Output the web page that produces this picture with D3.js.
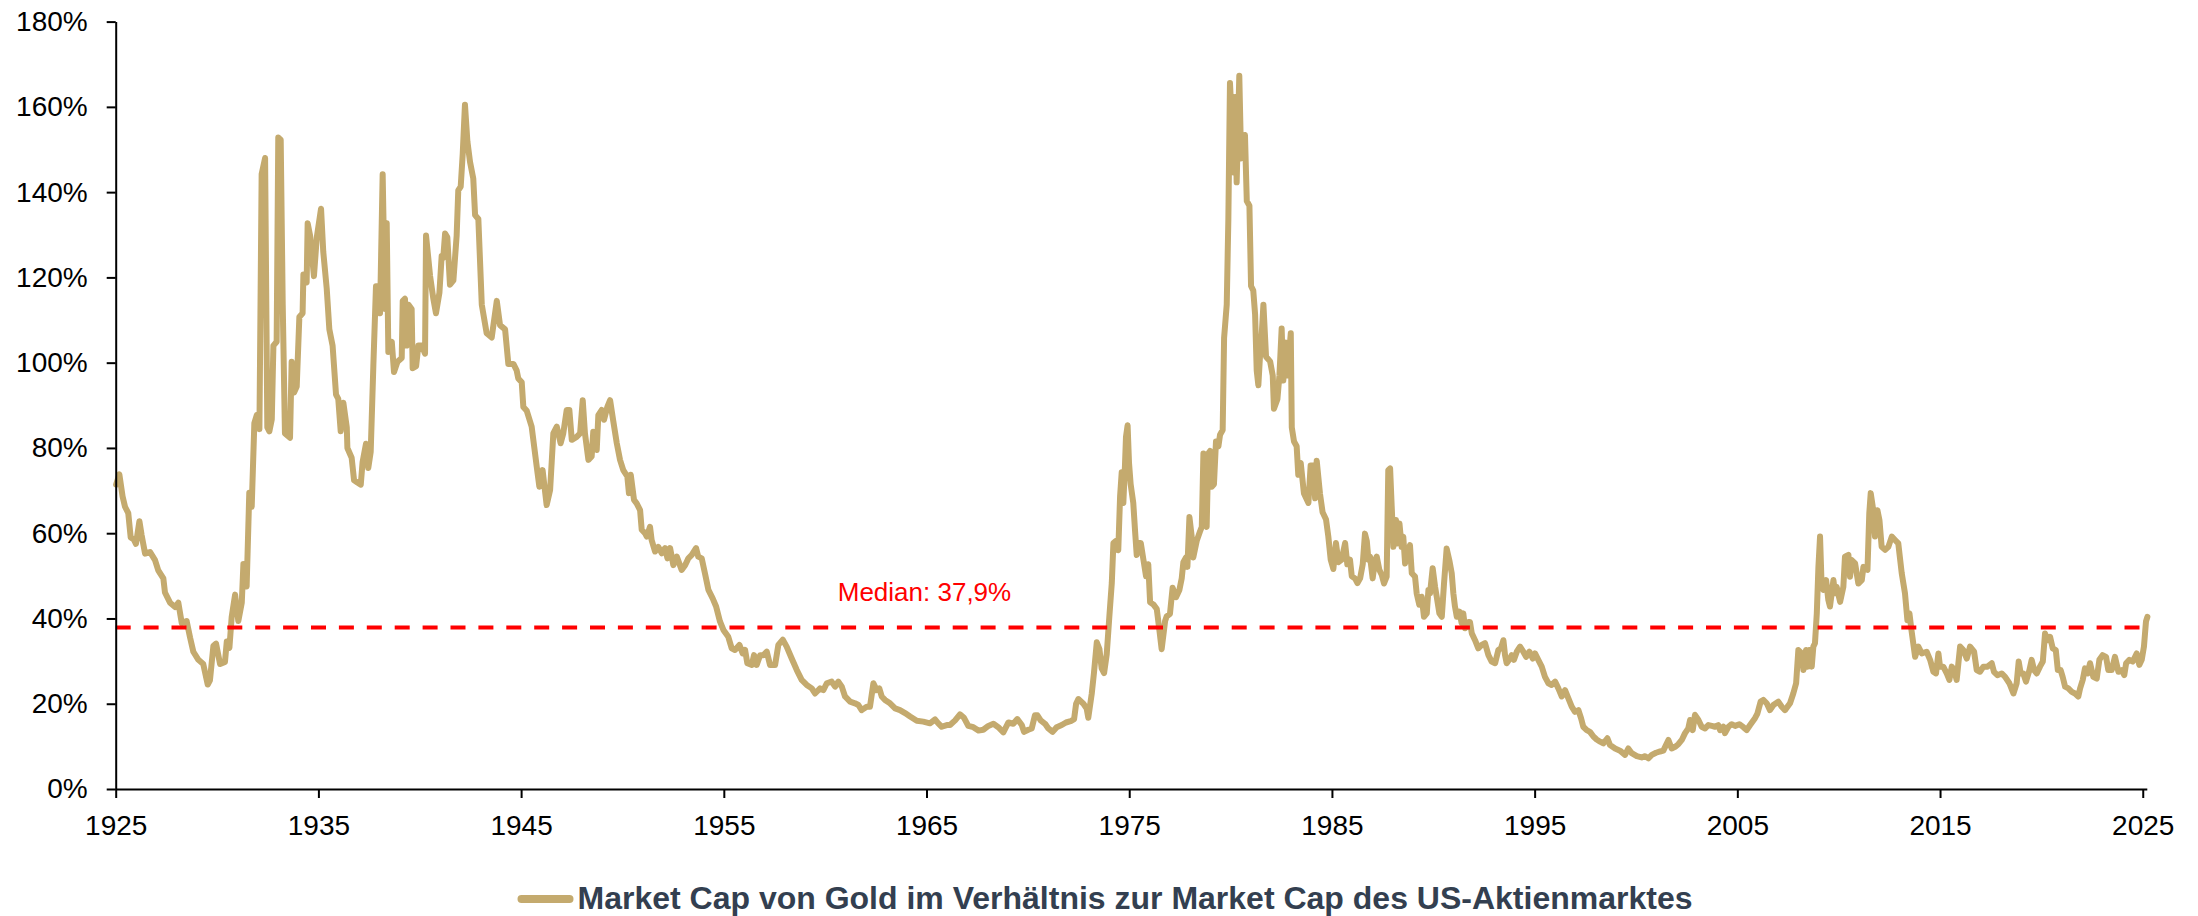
<!DOCTYPE html>
<html>
<head>
<meta charset="utf-8">
<script src="https://cdn.jsdelivr.net/npm/d3@7"></script>
<style>
  html, body { margin: 0; padding: 0; background: #fff; }
  svg { display: block; }
</style>
</head>
<body>
<div id="chart"></div>
<script>
// Market cap of gold relative to US stock market cap, in % ([year, value])
const era1925 = [
  [1925.02,71.4],[1925.18,73.8],[1925.34,68.6],[1925.46,66.2],[1925.62,64.7],[1925.74,59.0],[1925.90,58.5],[1926.00,57.5],
  [1926.17,62.8],[1926.28,59.5],[1926.45,55.2],[1926.69,55.6],[1926.94,53.7],[1927.10,51.3],[1927.35,49.4],[1927.43,46.1],
  [1927.68,43.7],[1927.93,42.7],[1928.09,43.7],[1928.26,38.9],[1928.50,39.4],[1928.67,35.5],[1928.83,32.2],[1929.08,30.3],
  [1929.32,29.3],[1929.54,24.5],[1929.65,25.5],[1929.82,33.6],[1929.95,34.1],[1930.15,29.3],[1930.39,29.8],[1930.48,34.6],
  [1930.61,33.1],[1930.72,40.3],[1930.89,45.6],[1931.05,39.4],[1931.22,43.7],[1931.30,52.8],[1931.46,47.5],[1931.59,69.5],
  [1931.71,66.2],[1931.84,85.8],[1931.96,87.7],[1932.09,84.4],[1932.20,144.2],[1932.37,148.0],[1932.48,84.8],[1932.58,83.9],
  [1932.70,86.7],[1932.78,104.0],[1932.94,104.9],[1933.02,152.8],[1933.14,152.3],[1933.24,113.6],[1933.35,83.4],[1933.60,82.4],
  [1933.68,100.2],[1933.80,93.0],[1933.93,94.4],[1934.06,110.7],[1934.22,111.6],[1934.26,120.7],[1934.42,118.8],[1934.47,132.7],
  [1934.59,129.8],[1934.78,120.3],[1934.92,129.4],[1935.13,136.1],[1935.24,126.0],[1935.41,117.4],[1935.54,107.8],[1935.70,104.0],
  [1935.87,92.5],[1935.98,91.5],[1936.10,83.9],[1936.23,90.6],[1936.40,84.8],[1936.43,80.0],[1936.64,77.7],[1936.76,72.4],
  [1936.92,71.9],[1937.09,71.4],[1937.18,76.7],[1937.35,81.0],[1937.46,75.3],[1937.58,79.1],[1937.71,99.2],[1937.84,117.9],
  [1937.96,117.9],[1938.04,111.6],[1938.17,144.2],[1938.29,112.6],[1938.37,132.7],[1938.45,102.5],[1938.62,104.9],[1938.73,97.8],
  [1938.90,100.2],[1939.11,101.1],[1939.16,114.5],[1939.27,115.0],[1939.36,104.0],[1939.44,113.6],[1939.60,112.6],[1939.65,98.7],
  [1939.82,99.2],[1939.93,104.0],[1940.10,104.0],[1940.26,102.1],[1940.31,129.8],[1940.51,120.3],[1940.67,115.0],[1940.80,111.6],
  [1940.97,116.4],[1941.08,125.0],[1941.16,124.6],[1941.25,130.3],[1941.36,129.4],[1941.49,118.3],[1941.66,119.3],[1941.82,129.8],
  [1941.90,140.4],[1942.02,141.3],[1942.12,149.0],[1942.23,160.5],[1942.35,151.9],[1942.48,147.1],[1942.64,143.2],[1942.73,134.6],
  [1942.89,133.7],[1943.06,113.6],[1943.30,106.9],[1943.55,105.9],[1943.80,114.5],[1943.96,108.8],[1944.21,107.8],[1944.37,99.7],
  [1944.62,99.7],[1944.78,98.2],[1944.86,96.3],[1945.03,95.4],[1945.11,89.6],[1945.28,88.7]
];
const era1945 = [
  [1945.52,85.0],[1945.77,75.6],[1945.90,70.9],[1946.06,74.8],[1946.26,66.6],[1946.43,70.1],[1946.59,83.4],[1946.76,85.0],
  [1946.95,81.1],[1947.08,83.4],[1947.25,88.9],[1947.38,88.9],[1947.50,81.9],[1947.74,82.6],[1947.91,83.4],[1948.04,91.2],
  [1948.15,83.4],[1948.32,77.2],[1948.48,78.0],[1948.56,83.8],[1948.73,79.5],[1948.81,87.7],[1948.98,88.9],[1949.09,86.6],
  [1949.26,89.7],[1949.39,91.2],[1949.55,86.2],[1949.72,81.1],[1949.88,77.2],[1950.04,74.8],[1950.24,73.3],[1950.32,69.4],
  [1950.41,73.7],[1950.57,67.8],[1950.70,67.0],[1950.87,65.4],[1950.95,60.8],[1951.11,60.0],[1951.20,59.2],[1951.36,61.5],
  [1951.44,58.4],[1951.61,55.7],[1951.77,56.8],[1951.94,55.3],[1952.10,56.5],[1952.22,54.1],[1952.35,56.5],[1952.51,52.5],
  [1952.68,54.5],[1952.92,51.4],[1953.09,52.5],[1953.25,54.1],[1953.42,54.9],[1953.63,56.5],[1953.74,54.5],[1953.91,54.1],
  [1954.07,50.6],[1954.24,46.7],[1954.45,44.7],[1954.62,42.8],[1954.81,39.3],[1954.98,37.3],[1955.22,35.7],[1955.39,33.0],
  [1955.55,32.6],[1955.77,33.8],[1955.93,31.8],[1956.05,32.6],[1956.16,29.5],[1956.38,29.1],[1956.49,31.4],[1956.62,29.1],
  [1956.79,31.4],[1956.95,31.4],[1957.12,32.2],[1957.28,29.1],[1957.53,29.1],[1957.69,33.8],[1957.91,35.0],[1958.10,33.4],
  [1958.35,30.6],[1958.60,27.9],[1958.84,25.6],[1959.09,24.4],[1959.34,23.6],[1959.50,22.4],[1959.75,23.6],[1959.91,23.2],
  [1960.08,24.8],[1960.32,25.2],[1960.49,24.0],[1960.65,25.2],[1960.82,24.0],[1960.98,21.7],[1961.23,20.5],[1961.47,20.1],
  [1961.64,19.7],[1961.80,18.5],[1962.05,19.3],[1962.21,19.3],[1962.38,24.8],[1962.54,23.2],[1962.67,23.6],[1962.79,21.7],
  [1962.95,20.9],[1963.20,20.1],[1963.45,18.9],[1963.69,18.5],[1963.94,17.8],[1964.19,17.0],[1964.52,16.0],[1964.84,15.8],
  [1965.17,15.4],[1965.42,16.3],[1965.58,15.4],[1965.75,14.6],[1966.00,15.0]
];
const era1966 = [
  [1966.16,15.0],[1966.41,16.1],[1966.65,17.5],[1966.85,16.7],[1967.06,14.8],[1967.31,14.5],[1967.56,13.7],[1967.80,13.9],
  [1968.05,14.8],[1968.30,15.3],[1968.54,14.5],[1968.79,13.3],[1969.04,15.6],[1969.28,15.3],[1969.48,16.4],[1969.70,15.0],
  [1969.81,13.4],[1970.02,13.9],[1970.19,14.2],[1970.35,17.3],[1970.47,17.3],[1970.63,16.1],[1970.85,15.3],[1971.01,14.2],
  [1971.22,13.4],[1971.42,14.5],[1971.67,15.0],[1971.88,15.6],[1972.11,15.9],[1972.28,16.4],[1972.38,20.0],[1972.49,21.1],
  [1972.74,20.0],[1972.90,18.9],[1972.98,16.7],[1973.15,22.3],[1973.26,27.2],[1973.40,34.4],[1973.53,32.8],[1973.64,28.3],
  [1973.76,27.2],[1973.89,31.6],[1974.02,40.5],[1974.14,48.3],[1974.22,57.7],[1974.35,58.2],[1974.46,56.0],[1974.55,68.7],
  [1974.63,74.3],[1974.71,67.1],[1974.79,75.9],[1974.84,82.6],[1974.92,85.3],[1974.99,76.5],[1975.07,71.5],[1975.20,67.1],
  [1975.29,60.4],[1975.37,54.9],[1975.45,57.7],[1975.57,57.7],[1975.70,53.8],[1975.83,49.9],[1975.94,52.7],[1976.03,43.8],
  [1976.19,43.3],[1976.36,42.2],[1976.49,37.2],[1976.60,32.8],[1976.77,39.4],[1976.85,40.5],[1977.01,41.1],[1977.14,47.2],
  [1977.31,45.0],[1977.47,46.6],[1977.59,49.4],[1977.67,53.2],[1977.80,54.3],[1977.87,52.1],[1977.97,63.8],[1978.08,59.3],
  [1978.16,54.3],[1978.33,58.2],[1978.49,60.4],[1978.58,61.5],[1978.66,78.7],[1978.74,62.1],[1978.82,61.5],[1978.90,78.7],
  [1978.99,79.3],[1979.07,70.9],[1979.18,71.5],[1979.28,81.5],[1979.40,80.4],[1979.48,83.1],[1979.61,84.2],[1979.68,105.8],
  [1979.81,113.6],[1979.89,133.5],[1979.97,165.6],[1980.06,156.7],[1980.14,144.6],[1980.22,162.3],[1980.30,142.3],[1980.43,167.3],
  [1980.52,147.9],[1980.60,151.2],[1980.71,153.4],[1980.80,137.9],[1980.93,136.8],[1981.01,118.0],[1981.12,116.9],[1981.21,111.3],
  [1981.29,98.1],[1981.37,94.7],[1981.45,101.4],[1981.54,106.9],[1981.62,113.6],[1981.75,101.4],[1981.95,100.3],[1982.08,97.0],
  [1982.14,89.2],[1982.31,91.4],[1982.41,97.0],[1982.52,108.0],[1982.60,95.8],[1982.74,104.7],[1982.80,97.0],[1982.97,106.9],
  [1983.02,84.8],[1983.13,81.5],[1983.26,80.4],[1983.34,73.7],[1983.46,76.5],[1983.62,69.3],[1983.84,67.1],[1983.95,75.9],
  [1984.08,75.9],[1984.17,68.2],[1984.25,77.0],[1984.41,69.3],[1984.54,64.9],[1984.71,63.2],[1984.82,59.3],[1984.94,53.8],
  [1985.07,51.6],[1985.20,57.7],[1985.32,53.2],[1985.48,53.8],[1985.65,57.7],[1985.76,52.7],[1985.89,53.8],[1985.98,49.9],
  [1986.14,49.4],[1986.26,48.3],[1986.39,49.4],[1986.52,52.7],[1986.63,59.9],[1986.72,58.2],[1986.80,53.8]
];
const era1987 = [
  [1986.88,54.5],[1987.01,49.4],[1987.13,53.7],[1987.21,54.5],[1987.34,51.4],[1987.46,50.2],[1987.57,48.2],[1987.70,49.8],
  [1987.78,74.8],[1987.87,75.2],[1987.95,66.2],[1988.03,56.8],[1988.16,63.1],[1988.23,57.6],[1988.33,62.3],[1988.44,56.8],
  [1988.52,59.2],[1988.61,52.9],[1988.72,55.3],[1988.85,57.2],[1988.94,50.6],[1989.10,49.8],[1989.18,45.9],[1989.31,43.2],
  [1989.43,45.1],[1989.54,40.4],[1989.68,41.2],[1989.76,46.7],[1989.84,45.9],[1989.97,51.8],[1990.09,47.4],[1990.17,45.1],
  [1990.30,41.2],[1990.42,40.4],[1990.53,48.2],[1990.66,56.4],[1990.79,53.7],[1990.91,50.6],[1990.99,45.9],[1991.07,42.8],
  [1991.16,40.4],[1991.29,41.6],[1991.40,38.9],[1991.48,41.2],[1991.57,37.7],[1991.73,39.2],[1991.81,39.2],[1991.90,36.5],
  [1992.06,34.9],[1992.22,33.0],[1992.39,33.8],[1992.55,34.2],[1992.72,31.4],[1992.88,29.9],[1993.05,29.5],[1993.21,32.6],
  [1993.34,33.0],[1993.46,34.9],[1993.54,31.4],[1993.62,29.5],[1993.79,30.6],[1993.87,31.4],[1993.98,30.3],[1994.12,32.2],
  [1994.28,33.4],[1994.44,32.2],[1994.58,31.0],[1994.74,32.2],[1994.91,30.6],[1995.02,31.8],[1995.18,30.3],[1995.35,28.7],
  [1995.51,26.3],[1995.68,24.8],[1995.84,24.4],[1996.01,25.2],[1996.17,23.6],[1996.34,21.7],[1996.50,23.2],[1996.66,21.3],
  [1996.83,19.3],[1996.99,18.1],[1997.16,18.5],[1997.29,16.6],[1997.40,14.6],[1997.57,13.8],[1997.73,13.4],[1997.90,12.3],
  [1998.06,11.6],[1998.23,11.1],[1998.39,10.7],[1998.59,11.9],[1998.72,10.3],[1998.97,9.5],[1999.21,9.0],[1999.46,8.0],
  [1999.62,9.5],[1999.79,8.4],[2000.04,7.7],[2000.28,7.4],[2000.45,7.7],[2000.61,7.2],[2000.78,8.0],[2000.99,8.5],
  [2001.19,8.8],[2001.35,9.0],[2001.60,11.5],[2001.76,9.5],[2001.93,9.9],[2002.09,10.5],[2002.26,11.5],[2002.42,13.1],
  [2002.58,14.2],[2002.67,16.2],[2002.80,13.8],[2002.91,17.4],[2003.08,16.2],[2003.24,14.6],[2003.41,14.2],[2003.57,15.0],
  [2003.74,14.8],[2003.90,14.6],[2004.06,15.0],[2004.15,13.8],[2004.31,14.6],[2004.39,13.1],[2004.56,14.6],[2004.72,15.2],
  [2004.89,14.8],[2005.10,15.2],[2005.30,14.5],[2005.46,13.8],[2005.63,15.0],[2005.87,16.6],[2005.99,17.7],[2006.15,20.5],
  [2006.28,20.9],[2006.45,20.1],[2006.61,18.5],[2006.78,19.7],[2007.02,20.5],[2007.19,19.3],[2007.35,18.5]
];
const era2008 = [
  [2007.60,20.1],[2007.76,22.4],[2007.90,24.8],[2008.01,32.6],[2008.18,31.8],[2008.26,27.9],[2008.39,32.6],[2008.46,28.7],
  [2008.55,32.6],[2008.67,28.7],[2008.75,33.4],[2008.83,34.2],[2008.92,41.2],[2009.00,52.1],[2009.08,59.2],[2009.16,47.4],
  [2009.24,46.7],[2009.38,49.0],[2009.49,44.3],[2009.57,42.8],[2009.74,49.0],[2009.82,45.9],[2009.90,47.4],[2010.07,43.9],
  [2010.23,47.4],[2010.31,54.5],[2010.48,54.9],[2010.56,49.8],[2010.64,53.7],[2010.81,52.9],[2010.97,48.2],[2011.14,49.0],
  [2011.22,52.1],[2011.42,51.4],[2011.51,64.7],[2011.58,69.4],[2011.68,66.2],[2011.79,59.2],[2011.91,65.4],[2012.01,63.1],
  [2012.12,56.8],[2012.29,56.1],[2012.45,56.8],[2012.62,59.2],[2012.78,58.4],[2012.94,57.6],[2013.11,50.6],[2013.27,45.9],
  [2013.39,39.6],[2013.49,41.2],[2013.60,36.9],[2013.77,31.0],[2013.93,33.4],[2014.10,31.8],[2014.34,32.2],[2014.51,30.3],
  [2014.67,27.5],[2014.80,27.1],[2014.92,31.8],[2015.00,28.7],[2015.16,28.7],[2015.33,27.1],[2015.46,25.6],[2015.58,28.7],
  [2015.69,27.9],[2015.82,25.6],[2015.99,33.4],[2016.15,32.6],[2016.32,30.6],[2016.48,33.4],[2016.68,32.2],[2016.81,27.9],
  [2016.97,27.5],[2017.14,28.7],[2017.34,28.7],[2017.55,29.5],[2017.66,27.5],[2017.83,26.7],[2018.04,27.1],[2018.21,26.3],
  [2018.42,24.8],[2018.62,22.4],[2018.78,24.8],[2018.88,29.9],[2018.98,27.1],[2019.11,27.1],[2019.24,25.2],[2019.41,27.9],
  [2019.52,30.3],[2019.64,27.9],[2019.77,27.1],[2019.93,28.7],[2020.07,29.9],[2020.18,36.5],[2020.30,34.9],[2020.43,35.7],
  [2020.56,33.0],[2020.71,32.6],[2020.81,27.9],[2020.95,27.9],[2021.05,26.3],[2021.17,24.0],[2021.33,23.6],[2021.50,22.8],
  [2021.66,22.4],[2021.82,21.7],[2021.91,23.6],[2022.04,25.6],[2022.15,28.3],[2022.28,27.1],[2022.40,29.5],[2022.56,26.3],
  [2022.73,25.9],[2022.86,30.3],[2023.02,31.4],[2023.19,31.0],[2023.30,27.9],[2023.47,27.9],[2023.63,31.0],[2023.80,27.5],
  [2023.96,27.9],[2024.09,26.7],[2024.18,29.5],[2024.34,30.3],[2024.51,29.9],[2024.70,31.8],[2024.83,29.1],[2024.95,30.3],
  [2025.06,33.4],[2025.16,39.3],[2025.23,40.4]
];

const median = 37.9;
const medianLabel = 'Median: 37,9%';
const seriesName = 'Market Cap von Gold im Verhältnis zur Market Cap des US-Aktienmarktes';
const xTicks = [1925, 1935, 1945, 1955, 1965, 1975, 1985, 1995, 2005, 2015, 2025];
const yTicks = [0, 20, 40, 60, 80, 100, 120, 140, 160, 180];

const series = [].concat(era1925, era1945, era1966, era1987, era2008);

const width = 2198, height = 916;
const font = '"Liberation Sans", Arial, Helvetica, sans-serif';
const gold = '#C4AA6E';

const svg = d3.select('#chart')
  .append('svg')
  .attr('xmlns', 'http://www.w3.org/2000/svg')
  .attr('width', width)
  .attr('height', height)
  .attr('viewBox', `0 0 ${width} ${height}`)
  .style('background', '#fff');

const x = d3.scaleLinear().domain([1925, 2025.2]).range([115.7, 2146.8]);
const y = d3.scaleLinear().domain([0, 180]).range([789, 21.6]);

// the series
const line = d3.line()
  .x(d => x(d[0]))
  .y(d => y(d[1]));

svg.append('path')
  .datum(series)
  .attr('fill', 'none')
  .attr('stroke', gold)
  .attr('stroke-width', 6)
  .attr('stroke-linejoin', 'round')
  .attr('stroke-linecap', 'round')
  .attr('d', line);

// median line + label
svg.append('line')
  .attr('x1', x(1925))
  .attr('x2', x(2025))
  .attr('y1', y(median))
  .attr('y2', y(median))
  .attr('stroke', '#FF0000')
  .attr('stroke-width', 4)
  .attr('stroke-dasharray', '15,12.9');

svg.append('text')
  .attr('x', x(1964.9))
  .attr('y', y(median) - 26)
  .attr('text-anchor', 'middle')
  .attr('fill', '#FF0000')
  .attr('font-family', font)
  .attr('font-size', 26)
  .text(medianLabel);

// axes
const xAxis = d3.axisBottom(x)
  .tickValues(xTicks)
  .tickFormat(d3.format('d'))
  .tickSize(9)
  .tickSizeOuter(0)
  .tickPadding(17);

const yAxis = d3.axisLeft(y)
  .tickValues(yTicks)
  .tickFormat(d => d + '%')
  .tickSize(9)
  .tickSizeOuter(0)
  .tickPadding(19);

const gx = svg.append('g')
  .attr('transform', `translate(0,${y(0)})`)
  .call(xAxis);

const gy = svg.append('g')
  .attr('transform', `translate(${x(1925)},0)`)
  .call(yAxis);

[gx, gy].forEach(g => {
  g.select('.domain').attr('stroke', '#000').attr('stroke-width', 2);
  g.selectAll('.tick line').attr('stroke', '#000').attr('stroke-width', 2);
  g.selectAll('.tick text')
    .attr('fill', '#000')
    .attr('font-family', font)
    .attr('font-size', 28);
});

// legend
const legend = svg.append('g');
const legendText = legend.append('text')
  .attr('x', 60)
  .attr('y', 909)
  .attr('fill', '#333F50')
  .attr('font-family', font)
  .attr('font-weight', 'bold')
  .attr('font-size', 32)
  .text(seriesName);

legend.append('line')
  .attr('x1', 4)
  .attr('x2', 52)
  .attr('y1', 899)
  .attr('y2', 899)
  .attr('stroke', gold)
  .attr('stroke-width', 8)
  .attr('stroke-linecap', 'round');

const legendWidth = 60 + legendText.node().getComputedTextLength();
legend.attr('transform', `translate(${1105 - legendWidth / 2},0)`);
</script>
</body>
</html>
